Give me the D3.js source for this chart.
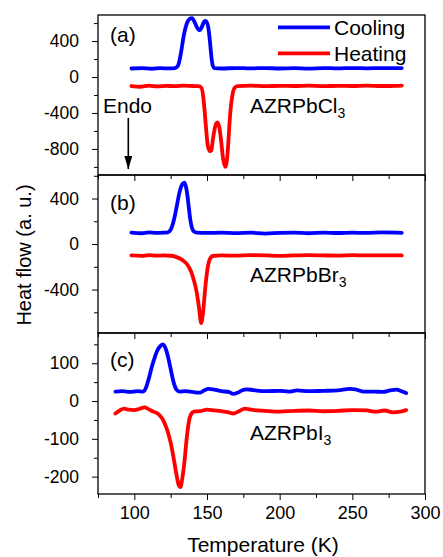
<!DOCTYPE html>
<html>
<head>
<meta charset="utf-8">
<script src="https://cdn.jsdelivr.net/npm/d3@7"></script>
<style>
  body { margin: 0; background: #fff; }
  text { font-family: Arial, "Liberation Sans", sans-serif; fill: #000; }
</style>
</head>
<body>
<div id="chart"></div>
<script>
// Temperature (K), heat flow (a. u.)
const coolA = [[98,95],[105,100],[112,92],[118,98],[124,96],[128,100],[130,125],[132,260],[134,460],[136,590],[138,645],[139.7,655],[141.5,610],[143.5,540],[145,520],[146.5,560],[148,615],[149,625],[150,605],[151,540],[152,400],[153,230],[154,125],[155,100],[160,95],[170,100],[180,96],[190,100],[200,95],[210,98],[220,94],[230,100],[240,96],[250,100],[260,97],[270,100],[284,100]];
const heatA = [[98,-100],[104,-108],[110,-95],[116,-105],[122,-98],[128,-102],[134,-96],[140,-100],[144,-102],[146,-115],[147.5,-230],[148.5,-400],[149.5,-600],[150.5,-760],[152,-825],[153,-815],[154,-700],[155.5,-560],[157,-505],[158.5,-560],[159.8,-720],[161,-900],[162.6,-1000],[164,-880],[165,-640],[166,-400],[167.5,-200],[169,-120],[171,-102],[180,-96],[190,-102],[200,-98],[210,-100],[220,-96],[230,-102],[240,-98],[250,-100],[260,-96],[270,-100],[280,-98],[284,-95]];

const coolB = [[98,100],[105,95],[110,102],[115,98],[120,100],[123,103],[125,125],[127,200],[129,320],[131,450],[133,525],[134.3,540],[135.5,505],[136.5,430],[137.5,320],[138.5,215],[139.5,150],[141,110],[143,100],[150,98],[160,100],[170,96],[180,100],[190,92],[200,98],[210,100],[220,95],[230,100],[240,97],[250,100],[260,98],[270,102],[280,100],[284,98]];
const heatB = [[98,-100],[105,-104],[110,-98],[115,-102],[120,-100],[125,-103],[128,-110],[131,-125],[134,-150],[137,-190],[139,-240],[141,-320],[143,-430],[144.5,-560],[146,-695],[147.3,-600],[148.7,-400],[150.2,-230],[151.7,-140],[154,-105],[160,-100],[170,-102],[180,-98],[190,-100],[200,-104],[210,-100],[220,-98],[230,-100],[240,-102],[250,-98],[260,-100],[270,-99],[284,-100]];

const coolC = [[87,25],[92,26],[97,24],[102,26],[106,25],[108,35],[110,60],[112,90],[114,115],[116,135],[118,146],[119.5,150],[121,144],[123,120],[125,85],[127,50],[129,30],[131,25],[135,26],[140,24],[145,22],[148,28],[151,32],[155,30],[160,26],[165,24],[168,19],[171,22],[174,28],[177,31],[182,29],[190,26],[200,27],[206,25],[212,28],[220,26],[230,27],[240,28],[248,32],[252,31],[258,25],[265,25],[271,24],[276,28],[280,30],[284,26],[287,21]];
const heatC = [[87,-33],[90,-25],[93,-20],[96,-23],[100,-24],[104,-20],[107,-17],[110,-22],[113,-28],[116,-33],[119,-45],[122,-70],[125,-110],[127,-150],[129,-195],[130.5,-222],[131.7,-228],[133,-205],[134.5,-160],[136,-100],[137.5,-55],[139,-35],[141,-28],[145,-27],[150,-23],[155,-25],[160,-27],[165,-30],[168,-33],[172,-27],[176,-20],[180,-23],[190,-26],[200,-28],[210,-26],[220,-25],[230,-27],[240,-26],[250,-24],[260,-25],[266,-28],[272,-25],[278,-30],[283,-28],[287,-24]];

const xTicks = [100, 150, 200, 250, 300];
const xMinor = [75, 125, 175, 225, 275];
const yTicksA = [400, 0, -400, -800];
const yTicksB = [400, 0, -400];
const yTicksC = [100, 0, -100, -200];
const labelsPanel = ["(a)", "(b)", "(c)"];
const compounds = [["AZRPbCl", "3"], ["AZRPbBr", "3"], ["AZRPbI", "3"]];
const legendNames = ["Cooling", "Heating"];

const width = 443, height = 557;
const left = 98, right = 425;
const font = "Arial, 'Liberation Sans', sans-serif";

const svg = d3.select("#chart").append("svg")
    .attr("width", width)
    .attr("height", height);

const x = d3.scaleLinear().domain([75, 300]).range([left, right]);

const panels = [
    { top: 15, bottom: 175, domain: [-1090, 690], ticks: yTicksA, step: 200, cool: coolA, heat: heatA, labelY: 42, compY: 113 },
    { top: 175, bottom: 333, domain: [-782, 607], ticks: yTicksB, step: 200, cool: coolB, heat: heatB, labelY: 210, compY: 281.5 },
    { top: 333, bottom: 494, domain: [-246, 180], ticks: yTicksC, step: 50, cool: coolC, heat: heatC, labelY: 367, compY: 440 }
];

panels.forEach((p, i) => {
    const y = d3.scaleLinear().domain(p.domain).range([p.bottom, p.top]);
    const g = svg.append("g");

    // frame
    g.append("rect")
        .attr("x", left).attr("y", p.top)
        .attr("width", right - left).attr("height", p.bottom - p.top)
        .attr("fill", "none").attr("stroke", "#000").attr("stroke-width", 1.3);

    // y ticks: labelled majors, minors halfway
    const minors = d3.range(Math.ceil(p.domain[0] / p.step) * p.step, p.domain[1], p.step)
        .filter(v => !p.ticks.includes(v));
    g.append("g")
        .attr("transform", `translate(${left},0)`)
        .call(d3.axisLeft(y).tickValues(p.ticks).tickSize(6).tickPadding(13).tickFormat(d => String(d)))
        .call(a => a.select(".domain").remove())
        .call(a => a.selectAll("text").attr("font-size", 17.5).attr("font-family", font));
    g.append("g")
        .attr("transform", `translate(${left},0)`)
        .call(d3.axisLeft(y).tickValues(minors).tickSize(4).tickFormat(""))
        .call(a => a.select(".domain").remove());

    // x ticks on bottom of each panel
    g.append("g").attr("transform", `translate(0,${p.bottom})`)
        .call(d3.axisBottom(x).tickValues(xTicks).tickSize(6).tickPadding(6)
            .tickFormat(i === 2 ? d => String(d) : ""))
        .call(a => a.select(".domain").remove())
        .call(a => a.selectAll("text").attr("font-size", 18).attr("font-family", font));
    g.append("g").attr("transform", `translate(0,${p.bottom})`)
        .call(d3.axisBottom(x).tickValues(xMinor).tickSize(4).tickFormat(""))
        .call(a => a.select(".domain").remove());

    const line = d3.line()
        .x(d => x(d[0]))
        .y(d => y(d[1]))
        .curve(d3.curveMonotoneX);

    g.append("path").datum(p.cool)
        .attr("d", line).attr("fill", "none")
        .attr("stroke", "#0000ff").attr("stroke-width", 3.8)
        .attr("stroke-linejoin", "round").attr("stroke-linecap", "round");
    g.append("path").datum(p.heat)
        .attr("d", line).attr("fill", "none")
        .attr("stroke", "#ff0000").attr("stroke-width", 3.8)
        .attr("stroke-linejoin", "round").attr("stroke-linecap", "round");

    g.append("text").attr("x", 110).attr("y", p.labelY)
        .attr("font-size", 21).text(labelsPanel[i]);

    const ct = g.append("text").attr("x", 250).attr("y", p.compY).attr("font-size", 21);
    ct.append("tspan").text(compounds[i][0]);
    ct.append("tspan").attr("font-size", 14).attr("dy", 5).text(compounds[i][1]);
});

// legend
const legendColors = ["#0000ff", "#ff0000"];
legendNames.forEach((name, i) => {
    const ly = 27.3 + i * 26;
    svg.append("line")
        .attr("x1", 278).attr("x2", 330).attr("y1", ly).attr("y2", ly)
        .attr("stroke", legendColors[i]).attr("stroke-width", 3.8);
    svg.append("text").attr("x", 334).attr("y", ly + 7.5)
        .attr("font-size", 21).text(name);
});

// Endo arrow
svg.append("defs").append("marker")
    .attr("id", "head").attr("viewBox", "0 0 13 8")
    .attr("refX", 13).attr("refY", 4)
    .attr("markerUnits", "userSpaceOnUse")
    .attr("markerWidth", 13).attr("markerHeight", 8)
    .attr("orient", "auto")
    .append("path").attr("d", "M0,0 L13,4 L0,8 z").attr("fill", "#000");
svg.append("text").attr("x", 103).attr("y", 113).attr("font-size", 21).text("Endo");
svg.append("line")
    .attr("x1", 128.3).attr("x2", 128.3).attr("y1", 118).attr("y2", 169)
    .attr("stroke", "#000").attr("stroke-width", 1.6)
    .attr("marker-end", "url(#head)");

// axis titles
svg.append("text")
    .attr("transform", "translate(31,255) rotate(-90)")
    .attr("text-anchor", "middle").attr("font-size", 20)
    .text("Heat flow (a. u.)");
svg.append("text")
    .attr("x", 263).attr("y", 552)
    .attr("text-anchor", "middle").attr("font-size", 21)
    .text("Temperature (K)");
</script>
</body>
</html>
